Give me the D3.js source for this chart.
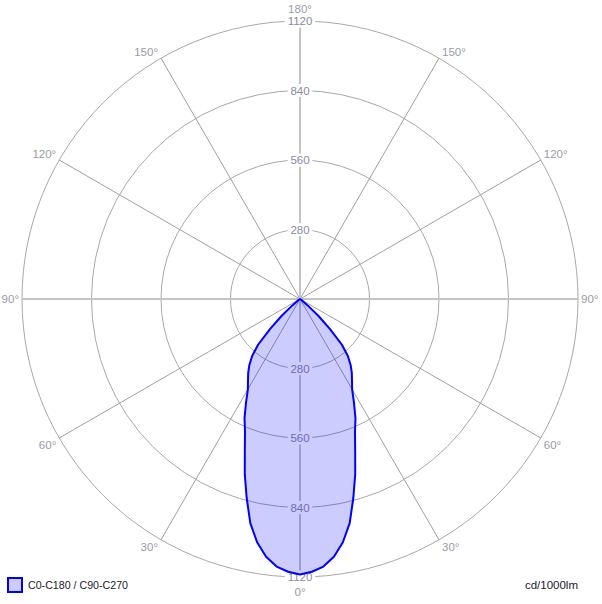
<!DOCTYPE html>
<html>
<head>
<meta charset="utf-8">
<script src="https://cdn.jsdelivr.net/npm/d3@7"></script>
<style>
html,body{margin:0;padding:0;background:#fff;}
svg{display:block;}
text{font-family:"Liberation Sans",Arial,sans-serif;}
</style>
</head>
<body>
<svg id="chart" width="602" height="604"></svg>
<script>
// ---- data ----
const gammaAngles = [0,2.5,5,7.5,10,12.5,15,17.5,20,22.5,25,27.5,30,32.5,35,37.5,40,42.5,45,47.5,50,55,60,70,80,90];
const intensityC0C180 = [1110,1100,1082,1047,995,925,830,740,650,579,529,471,420,390,364,335,300,250,170,100,40,10,0,0,0,0];
const ringTicks = [280,560,840,1120];
const angleTicks = [0,30,60,90,120,150,180];
const legendLabel = "C0-C180 / C90-C270";
const unitLabel = "cd/1000lm";

// ---- layout ----
const svg = d3.select("#chart");
const cx = 300, cy = 299, R = 278;
const rScale = d3.scaleLinear().domain([0,1120]).range([0,R]);
const toRad = d => d*Math.PI/180;
// gamma measured from bottom; returns point for side (+1 right, -1 left)
function pt(gamma, r, side){
  return [cx + side*r*Math.sin(toRad(gamma)), cy + r*Math.cos(toRad(gamma))];
}

const g = svg.append("g");

// circles
g.selectAll("circle.ring").data(ringTicks).enter().append("circle")
  .attr("cx",cx).attr("cy",cy).attr("r",d=>rScale(d))
  .attr("fill","none").attr("stroke","#a8a8a8").attr("stroke-width",1);

// spokes (30,60,120,150 both sides)
const spokes = angleTicks.filter(a=>a%90!==0);
[1,-1].forEach(side=>{
  g.selectAll(null).data(spokes).enter().append("line")
    .attr("x1",cx).attr("y1",cy)
    .attr("x2",d=>pt(d,R,side)[0]).attr("y2",d=>pt(d,R,side)[1])
    .attr("stroke","#a0a0a0").attr("stroke-width",1);
});
// main axes
g.append("line").attr("x1",cx-R).attr("x2",cx+R).attr("y1",cy).attr("y2",cy)
  .attr("stroke","#c4c4c4").attr("stroke-width",2);
g.append("line").attr("x1",cx).attr("x2",cx).attr("y1",cy-R).attr("y2",cy+R)
  .attr("stroke","#c4c4c4").attr("stroke-width",2);

// ring labels with white background (top and bottom)
const ringLabels = [];
ringTicks.forEach(t=>{ ringLabels.push({t, y: cy - rScale(t)}); ringLabels.push({t, y: cy + rScale(t)}); });
const rl = g.selectAll("g.rl").data(ringLabels).enter().append("g");
rl.append("rect")
  .attr("x", d=> cx - (String(d.t).length*6.2)/2 - 3)
  .attr("y", d=> d.y - 6.5)
  .attr("width", d=> String(d.t).length*6.2 + 6)
  .attr("height", 13)
  .attr("fill","#fff");
rl.append("text")
  .attr("x",cx).attr("y",d=>d.y).attr("dy","0.35em")
  .attr("text-anchor","middle").attr("font-size",11.5)
  .attr("fill","#8a8aa6").text(d=>d.t);

// angle labels
const angLabels = [];
angleTicks.forEach(a=>{
  if(a===0){ angLabels.push({a, x:cx, y:cy+R+19, anchor:"middle"}); }
  else if(a===180){ angLabels.push({a, x:cx, y:cy-R-8, anchor:"middle"}); }
  else {
    [1,-1].forEach(side=>{
      const p = pt(a,R,side);
      let y;
      if(a===90) y = p[1]+4;
      else if(a>90) y = p[1]-2;
      else y = p[1]+11;
      angLabels.push({a, x: p[0] + side*(a===90?3:3), y, anchor: side>0?"start":"end"});
    });
  }
});
g.selectAll("text.ang").data(angLabels).enter().append("text")
  .attr("x",d=>d.x).attr("y",d=>d.y)
  .attr("text-anchor",d=>d.anchor).attr("font-size",11.5)
  .attr("fill","#9a9aaa").text(d=>d.a+"°");

// curve: right side 0..90, left side 90..0
const pts = [];
gammaAngles.forEach((a,i)=>pts.push({ang: Math.PI - toRad(a), r: rScale(intensityC0C180[i])}));
for(let i=gammaAngles.length-1;i>=0;i--) pts.push({ang: Math.PI + toRad(gammaAngles[i]), r: rScale(intensityC0C180[i])});
const radial = d3.lineRadial().angle(d=>d.ang).radius(d=>d.r).curve(d3.curveLinearClosed);
g.append("path").attr("transform",`translate(${cx},${cy})`)
  .attr("d", radial(pts))
  .attr("fill","rgba(0,0,255,0.2)").attr("stroke","#0000ff").attr("stroke-width",2)
  .attr("stroke-linejoin","round");

// legend
svg.append("rect").attr("x",8).attr("y",578).attr("width",14).attr("height",14)
  .attr("fill","#ccccff").attr("stroke","#0000ff").attr("stroke-width",2);
svg.append("text").attr("x",28).attr("y",589).attr("font-size",11.5).attr("fill","#1a1a2a")
  .attr("textLength",100).attr("lengthAdjust","spacingAndGlyphs").text(legendLabel);
svg.append("text").attr("x",578).attr("y",589).attr("text-anchor","end").attr("font-size",11.5)
  .attr("fill","#1a1a2a").text(unitLabel);
</script>
</body>
</html>
